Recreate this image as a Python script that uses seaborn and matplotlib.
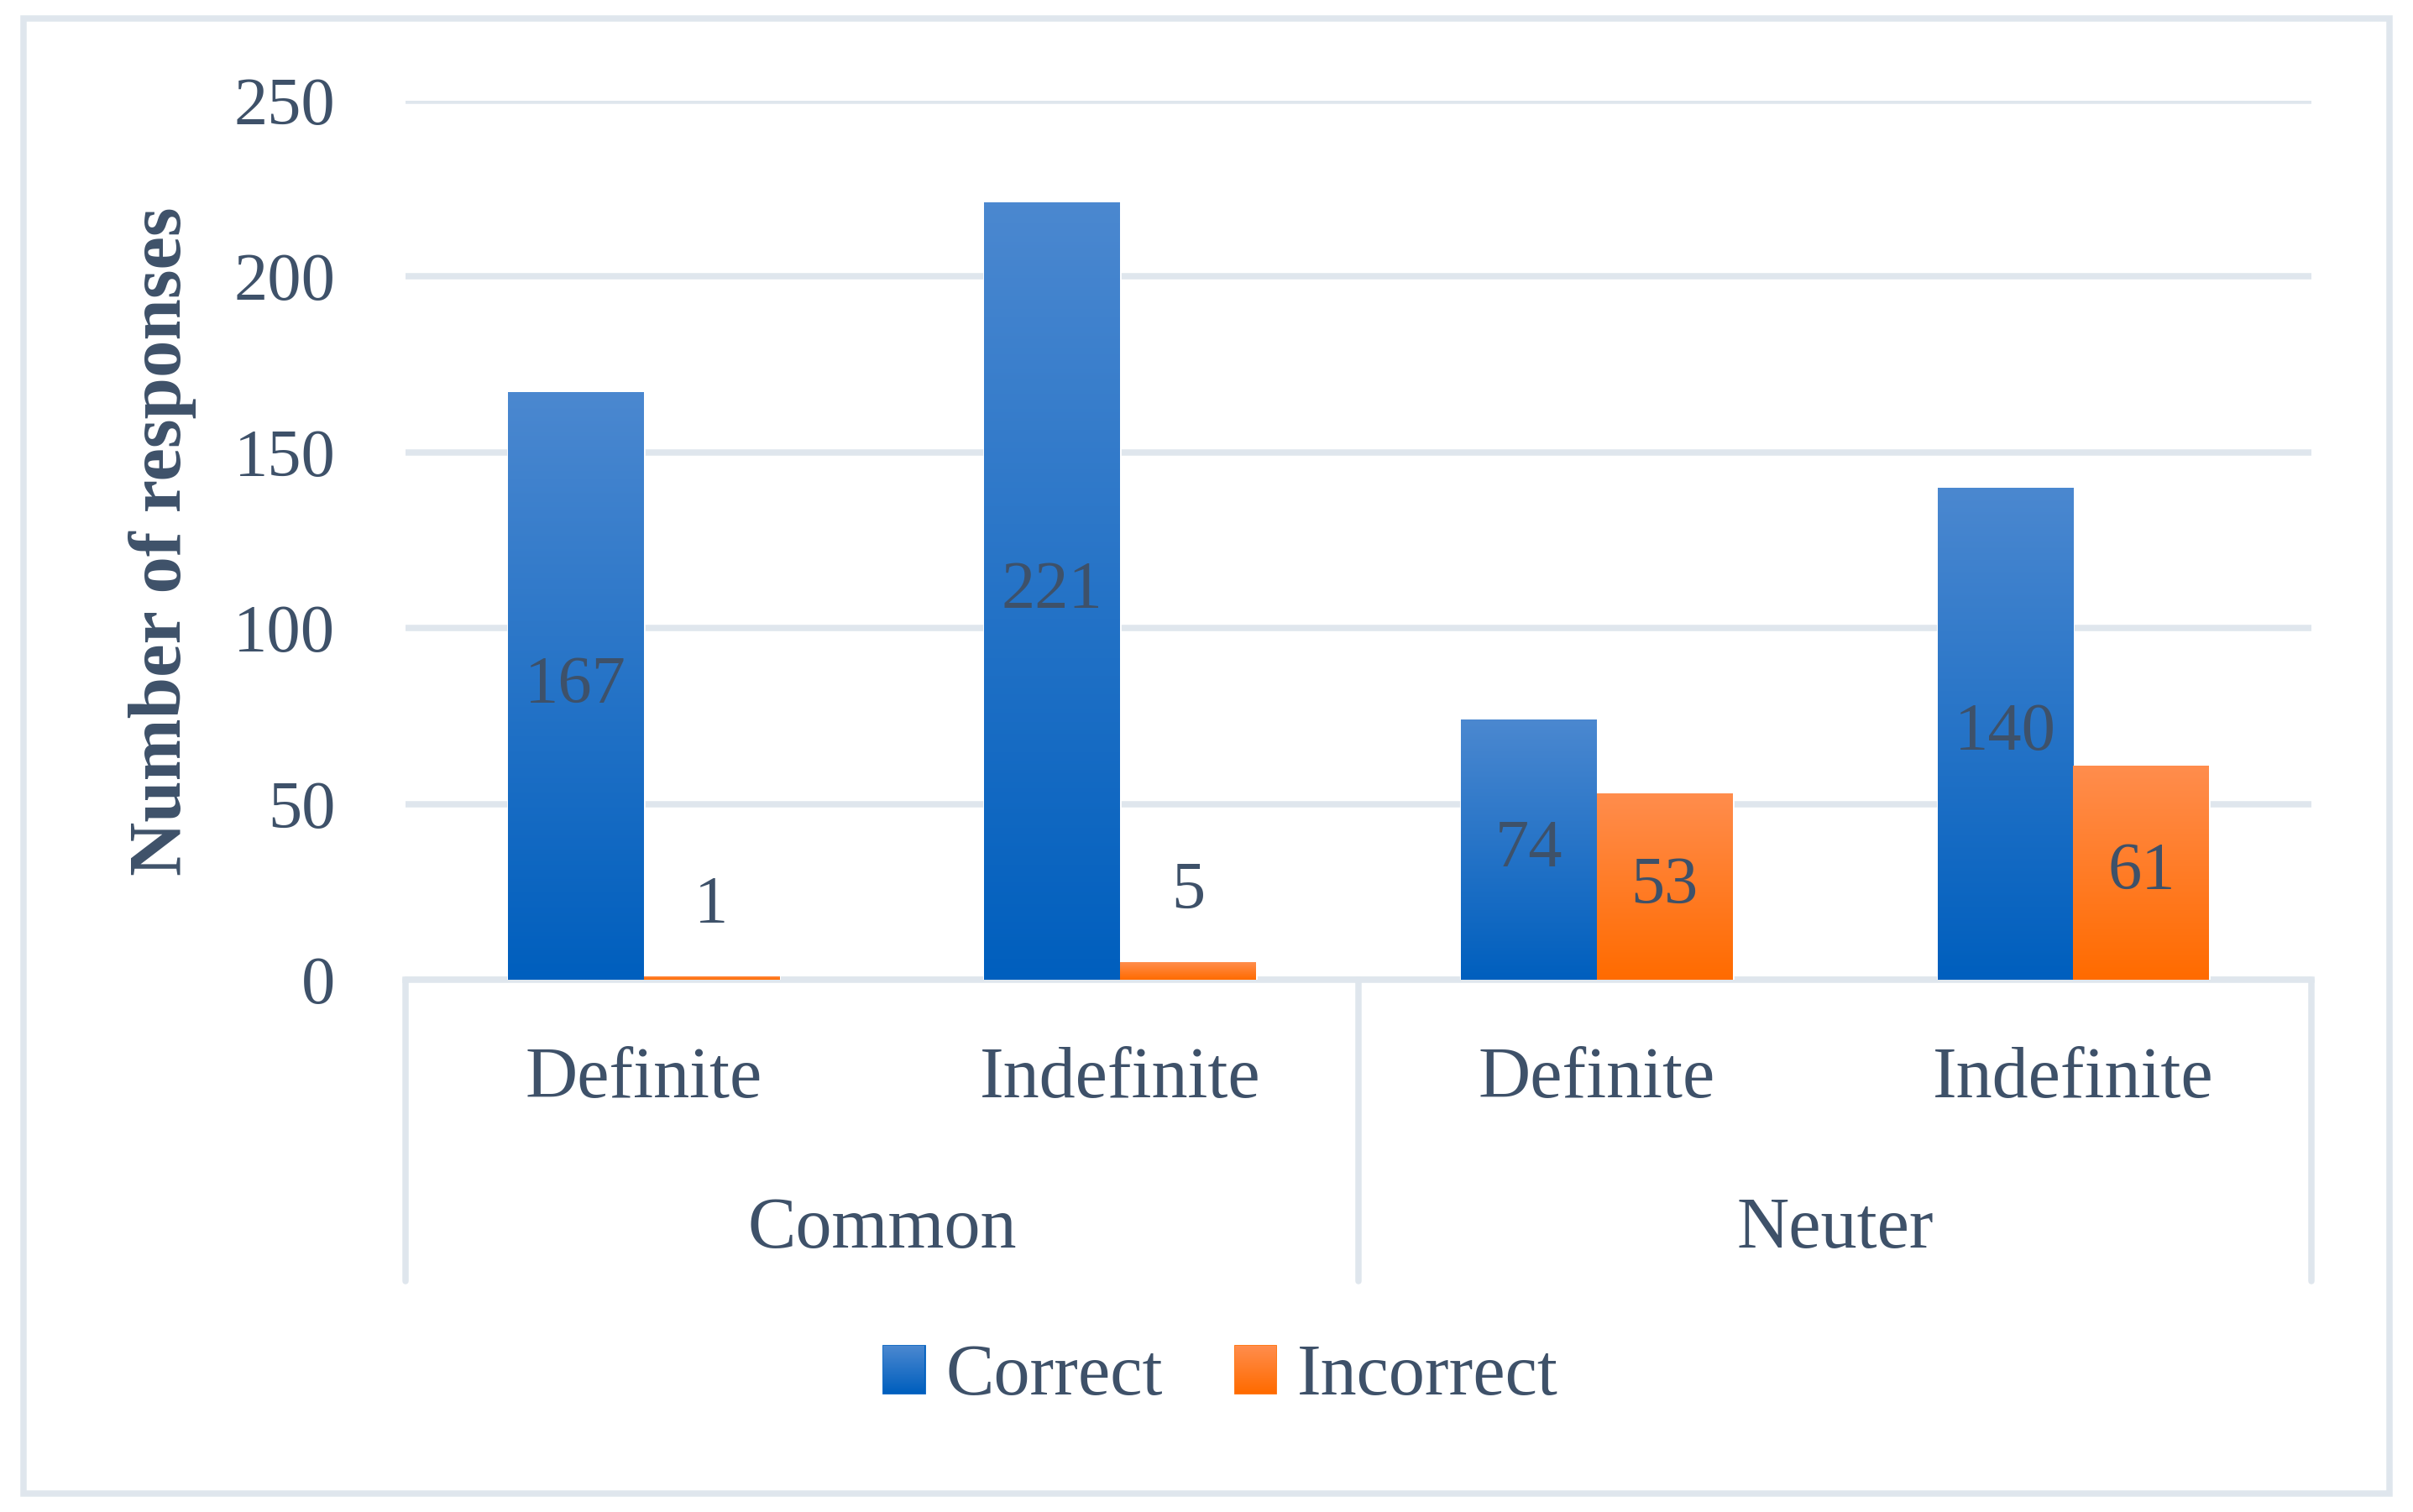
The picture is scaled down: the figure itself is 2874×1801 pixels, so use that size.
import numpy as np
import pandas as pd
import seaborn as sns
import matplotlib.pyplot as plt
import matplotlib.transforms as mtransforms
from matplotlib.patches import Rectangle, Patch
from matplotlib.colors import LinearSegmentedColormap

# datos
genders = ["Common", "Common", "Neuter", "Neuter"]
forms = ["Definite", "Indefinite", "Definite", "Indefinite"]
outcomes = ["Correct", "Incorrect"]
correct = [167, 221, 74, 140]
incorrect = [1, 5, 53, 61]
yticks = [0, 50, 100, 150, 200, 250]

slots = [g + " " + f for g, f in zip(genders, forms)]
df = pd.DataFrame({
    "slot": slots * 2,
    "outcome": [outcomes[0]] * 4 + [outcomes[1]] * 4,
    "count": correct + incorrect,
})

sns.set_theme(style="white")
plt.rcParams['font.family'] = ['Liberation Serif', 'DejaVu Serif']

txt = "#3e5169"
grid = "#dfe6ed"
blue_top, blue_bot = "#4b88d0", "#005fbe"
orange_top, orange_bot = "#ff8d4d", "#ff6b00"

fig = plt.figure(figsize=(14.37, 9.005), dpi=200)
ax = fig.add_axes([0.168, 0.352, 0.790, 0.5815])

sns.barplot(data=df, x="slot", y="count", hue="outcome", order=slots,
            hue_order=outcomes, palette=[blue_bot, orange_bot],
            width=0.57, saturation=1, legend=False, ax=ax)


def gradient(top, bot):
    return LinearSegmentedColormap.from_list("g", [bot, top])


grad = np.linspace(0, 1, 256).reshape(-1, 1)
cmaps = [gradient(blue_top, blue_bot), gradient(orange_top, orange_bot)]
for cont, cmap in zip(ax.containers, cmaps):
    for p in cont:
        x, y = p.get_xy()
        w, h = p.get_width(), p.get_height()
        im = ax.imshow(grad, cmap=cmap, extent=[x, x + w, y, y + h],
                       origin="lower", aspect="auto", zorder=p.get_zorder() + 0.1)
        im.set_clip_path(p)

ax.set_xlim(-0.5, 3.5)
ax.set_ylim(0, 250)
ax.set_yticks(yticks)
ax.yaxis.grid(True, color=grid, lw=2.7)
ax.set_axisbelow(True)
ax.tick_params(axis='y', length=0, pad=30, labelsize=29, labelcolor=txt)
ax.set_xticks([])
ax.set_xlabel("")
ax.set_ylabel("")
for s in ["top", "left", "right"]:
    ax.spines[s].set_visible(False)
ax.spines["bottom"].set_color(grid)
ax.spines["bottom"].set_linewidth(2.7)
ax.spines["bottom"].set_zorder(0.6)

# etiquetas de valores
for cont in ax.containers:
    vals = [p.get_height() for p in cont]
    big = [f"{v:.0f}" if v >= 10 else "" for v in vals]
    small = [f"{v:.0f}" if v < 10 else "" for v in vals]
    ax.bar_label(cont, labels=big, label_type="center", fontsize=29, color=txt, zorder=5)
    ax.bar_label(cont, labels=small, label_type="edge", padding=17, fontsize=29, color=txt)

# ejes de categorias en dos niveles
trans = mtransforms.blended_transform_factory(ax.transData, ax.transAxes)
for i, f in enumerate(forms):
    ax.text(i, -0.114, f, transform=trans, ha="center", va="center",
            fontsize=31, color=txt)
for g in dict.fromkeys(genders):
    idx = [i for i, gg in enumerate(genders) if gg == g]
    ax.text(np.mean(idx), -0.285, g, transform=trans, ha="center", va="center",
            fontsize=31, color=txt)
for xs in [-0.5, 1.5, 3.5]:
    ax.plot([xs, xs], [0, -0.343], transform=trans, color=grid, lw=2.7, clip_on=False)

fig.text(0.0673, 0.642, "Number of responses", rotation=90, ha="center", va="center",
         fontsize=32, fontweight="bold", color=txt)

handles = [Patch(color=blue_bot), Patch(color=orange_bot)]
leg = fig.legend(handles, outcomes, loc="center", bbox_to_anchor=(0.506, 0.089),
                 ncol=2, frameon=False, fontsize=31, labelcolor=txt,
                 handlelength=0.56, handleheight=0.62, handletextpad=0.3,
                 columnspacing=1.0)

# degradado en los cuadros de la leyenda
fig.canvas.draw()
inv = fig.transFigure.inverted()
for h, cmap in zip(leg.legend_handles, cmaps):
    bb = h.get_window_extent().transformed(inv)
    lax = fig.add_axes([bb.x0, bb.y0, bb.width, bb.height], zorder=10)
    lax.imshow(grad, cmap=cmap, origin="lower", aspect="auto")
    lax.axis("off")

fig.patches.append(Rectangle((15 / 1560, 12 / 977), 1530 / 1560, 953 / 977,
                             transform=fig.transFigure, fill=False, ec=grid, lw=2.7))

fig.savefig("out.png", dpi=200, facecolor="white")
